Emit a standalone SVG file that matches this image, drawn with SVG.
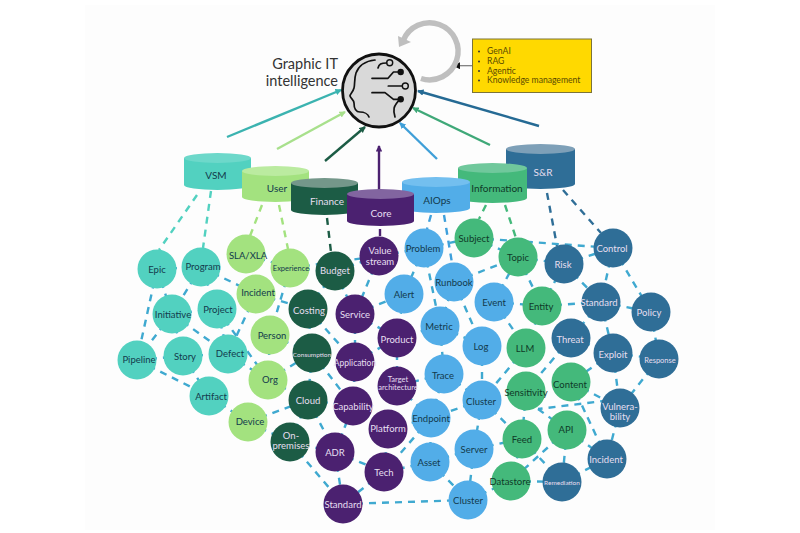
<svg xmlns="http://www.w3.org/2000/svg" width="800" height="533" viewBox="0 0 800 533">
<defs>
<style>
text{font-family:"Lato","Open Sans","Liberation Sans",sans-serif;font-size:9.5px;text-anchor:middle}
.lt{fill:#e6dff0}.dk{fill:#123a4c}
.e{stroke:#3fa9d0;stroke-width:2.4;stroke-dasharray:7 6;fill:none}
.cd{stroke-width:2.4;stroke-dasharray:7 6;fill:none}
.up{stroke-width:2.4;fill:none}
.h{fill:none;stroke:#111;stroke-width:1.7;stroke-linecap:round;stroke-linejoin:round}
.vsm{fill:#52d1c0}.usr{fill:#a3e27f}.fin{fill:#1c5c45}.cor{fill:#4b2170}.aio{fill:#52ade8}.inf{fill:#44b97b}.sr{fill:#2f6e97}
.big{font-size:14.5px;fill:#333;text-anchor:end}
.cy{font-size:10px}
.s{font-size:7.5px}.xs{font-size:6.5px}
.bl{font-size:8.6px;fill:#5a4a00;text-anchor:start}
</style>
<marker id="a1" markerWidth="6.500" markerHeight="6.500" refX="5.500" refY="3.250" orient="auto" markerUnits="userSpaceOnUse"><path d="M0 0L6.500 3.250L0 6.500z" fill="context-stroke"/></marker>
<marker id="ab" markerWidth="7" markerHeight="7" refX="7" refY="3.500" orient="auto" markerUnits="userSpaceOnUse"><path d="M0 0L7 3.500L0 7z" fill="#111"/></marker>
<circle id="c" r="19.5"/>
</defs>
<rect width="800" height="533" fill="#fff"/>
<rect x="85" y="5" width="630" height="525" fill="#fdfdfd"/>

<g id="connectors">
<g class="cd" stroke="#52d1c0" id="c-vsm"><line x1="197" y1="195" x2="159" y2="250"/><line x1="211" y1="191" x2="203" y2="248"/></g>
<g class="cd" stroke="#a3e27f" id="c-user"><line x1="262" y1="205" x2="250" y2="236"/><line x1="279" y1="205" x2="288" y2="249"/></g>
<g class="cd" stroke="#1c5c45" id="c-fin"><line x1="327" y1="218" x2="331" y2="252"/></g>
<g class="cd" stroke="#4b2170" id="c-core"><line x1="380" y1="229" x2="380" y2="237"/></g>
<g class="cd" stroke="#3fa0dc" id="c-aiops"><line x1="431" y1="215" x2="427" y2="229"/><line x1="444" y1="215" x2="452" y2="263"/></g>
<g class="cd" stroke="#44b97b" id="c-info"><line x1="486" y1="205" x2="479" y2="219"/><line x1="505" y1="205" x2="516" y2="238"/></g>
<g class="cd" stroke="#2f6e97" id="c-sr"><line x1="547" y1="193" x2="557" y2="246"/><line x1="563" y1="190" x2="601" y2="233"/></g>
<g class="e" id="c-links">
<line x1="157" y1="269" x2="201" y2="267"/><line x1="157" y1="269" x2="172" y2="314"/><line x1="201" y1="267" x2="172" y2="314"/><line x1="201" y1="267" x2="217" y2="309"/><line x1="201" y1="267" x2="256" y2="294"/><line x1="157" y1="269" x2="137" y2="360"/><line x1="172" y1="314" x2="137" y2="360"/><line x1="172" y1="314" x2="217" y2="309"/><line x1="172" y1="314" x2="183" y2="356"/><line x1="172" y1="314" x2="228" y2="354"/><line x1="217" y1="309" x2="228" y2="354"/><line x1="217" y1="309" x2="268" y2="380"/><line x1="256" y1="294" x2="228" y2="354"/><line x1="246" y1="254" x2="290" y2="268"/><line x1="290" y1="268" x2="379" y2="256"/><line x1="290" y1="268" x2="335" y2="271"/><line x1="335" y1="271" x2="379" y2="256"/><line x1="335" y1="271" x2="355" y2="314"/><line x1="379" y1="256" x2="355" y2="314"/><line x1="379" y1="256" x2="424" y2="248"/><line x1="290" y1="268" x2="270" y2="335"/><line x1="256" y1="294" x2="308" y2="309"/><line x1="308" y1="309" x2="335" y2="271"/><line x1="137" y1="360" x2="183" y2="356"/><line x1="137" y1="360" x2="209" y2="396"/><line x1="183" y1="356" x2="228" y2="354"/><line x1="183" y1="356" x2="209" y2="396"/><line x1="228" y1="354" x2="268" y2="380"/><line x1="270" y1="335" x2="268" y2="380"/><line x1="270" y1="335" x2="312" y2="353"/><line x1="268" y1="380" x2="312" y2="353"/><line x1="268" y1="380" x2="308" y2="400"/><line x1="209" y1="396" x2="248" y2="422"/><line x1="248" y1="422" x2="308" y2="400"/><line x1="248" y1="422" x2="290" y2="442"/><line x1="308" y1="309" x2="312" y2="353"/><line x1="312" y1="353" x2="308" y2="400"/><line x1="308" y1="400" x2="353" y2="406"/><line x1="308" y1="400" x2="290" y2="442"/><line x1="308" y1="400" x2="335" y2="452"/><line x1="312" y1="353" x2="353" y2="406"/><line x1="308" y1="309" x2="355" y2="362"/><line x1="355" y1="314" x2="355" y2="362"/><line x1="355" y1="362" x2="353" y2="406"/><line x1="355" y1="362" x2="397" y2="338"/><line x1="290" y1="442" x2="335" y2="452"/><line x1="290" y1="442" x2="343" y2="504"/><line x1="335" y1="452" x2="353" y2="406"/><line x1="335" y1="452" x2="384" y2="472"/><line x1="335" y1="452" x2="343" y2="504"/><line x1="384" y1="472" x2="343" y2="504"/><line x1="384" y1="472" x2="388" y2="429"/><line x1="343" y1="504" x2="468" y2="500"/><line x1="355" y1="314" x2="404" y2="294"/><line x1="355" y1="314" x2="397" y2="338"/><line x1="474" y1="238" x2="613" y2="248"/><line x1="474" y1="238" x2="518" y2="257"/><line x1="424" y1="248" x2="474" y2="238"/><line x1="424" y1="248" x2="404" y2="294"/><line x1="424" y1="248" x2="440" y2="326"/><line x1="454" y1="282" x2="518" y2="257"/><line x1="454" y1="282" x2="482" y2="346"/><line x1="454" y1="282" x2="440" y2="326"/><line x1="404" y1="294" x2="397" y2="338"/><line x1="440" y1="326" x2="397" y2="338"/><line x1="440" y1="326" x2="482" y2="346"/><line x1="440" y1="326" x2="444" y2="374"/><line x1="482" y1="346" x2="482" y2="400"/><line x1="494" y1="302" x2="518" y2="257"/><line x1="494" y1="302" x2="542" y2="306"/><line x1="494" y1="302" x2="526" y2="348"/><line x1="518" y1="257" x2="564" y2="264"/><line x1="518" y1="257" x2="542" y2="306"/><line x1="542" y1="306" x2="564" y2="264"/><line x1="542" y1="306" x2="601" y2="302"/><line x1="542" y1="306" x2="526" y2="348"/><line x1="564" y1="264" x2="613" y2="248"/><line x1="564" y1="264" x2="601" y2="302"/><line x1="613" y1="248" x2="601" y2="302"/><line x1="613" y1="248" x2="651" y2="312"/><line x1="601" y1="302" x2="651" y2="312"/><line x1="601" y1="302" x2="571" y2="338"/><line x1="601" y1="302" x2="613" y2="353"/><line x1="651" y1="312" x2="659" y2="359"/><line x1="571" y1="338" x2="613" y2="353"/><line x1="571" y1="338" x2="526" y2="391"/><line x1="526" y1="348" x2="482" y2="400"/><line x1="613" y1="353" x2="659" y2="359"/><line x1="613" y1="353" x2="571" y2="382"/><line x1="613" y1="353" x2="620" y2="408"/><line x1="659" y1="359" x2="620" y2="408"/><line x1="571" y1="382" x2="620" y2="408"/><line x1="620" y1="399" x2="538" y2="409"/><line x1="538" y1="409" x2="567" y2="430"/><line x1="620" y1="408" x2="607" y2="459"/><line x1="571" y1="382" x2="607" y2="459"/><line x1="526" y1="391" x2="522" y2="439"/><line x1="522" y1="439" x2="511" y2="481"/><line x1="522" y1="439" x2="562" y2="482"/><line x1="567" y1="430" x2="511" y2="481"/><line x1="567" y1="430" x2="562" y2="482"/><line x1="567" y1="430" x2="607" y2="459"/><line x1="511" y1="481" x2="562" y2="482"/><line x1="562" y1="482" x2="607" y2="459"/><line x1="482" y1="400" x2="522" y2="439"/><line x1="482" y1="400" x2="474" y2="449"/><line x1="482" y1="400" x2="431" y2="418"/><line x1="482" y1="400" x2="444" y2="374"/><line x1="474" y1="449" x2="522" y2="439"/><line x1="474" y1="449" x2="430" y2="462"/><line x1="474" y1="449" x2="468" y2="500"/><line x1="430" y1="462" x2="468" y2="500"/><line x1="430" y1="462" x2="431" y2="418"/><line x1="430" y1="462" x2="384" y2="472"/><line x1="431" y1="418" x2="444" y2="374"/><line x1="431" y1="418" x2="388" y2="429"/><line x1="431" y1="418" x2="384" y2="472"/><line x1="444" y1="374" x2="397" y2="386"/><line x1="431" y1="418" x2="397" y2="386"/><line x1="397" y1="386" x2="397" y2="338"/><line x1="468" y1="500" x2="511" y2="481"/>
</g>
<g id="c-up">
<line class="up" x1="227" y1="137" x2="341" y2="90" stroke="#3bb3b0" marker-end="url(#a1)"/>
<line class="up" x1="277" y1="149" x2="345" y2="112" stroke="#a8e08c" marker-end="url(#a1)"/>
<line class="up" x1="325" y1="161" x2="365" y2="127" stroke="#1c5c45" marker-end="url(#a1)"/>
<line class="up" x1="379" y1="190" x2="379" y2="146" stroke="#4b2170" marker-end="url(#a1)"/>
<line class="up" x1="437" y1="159" x2="400" y2="123" stroke="#3f9fd8" marker-end="url(#a1)"/>
<line class="up" x1="490" y1="145" x2="413" y2="108" stroke="#3fa878" marker-end="url(#a1)"/>
<line class="up" x1="539" y1="126" x2="418" y2="91" stroke="#256a94" marker-end="url(#a1)"/>
<line x1="472" y1="65.7" x2="453" y2="65.7" stroke="#777" stroke-width="1.2" marker-end="url(#ab)"/>
<path d="M421 78.5A28.5 28.5 0 1 0 403 41" fill="none" stroke="#bfbfbf" stroke-width="5.5"/>
<path d="M398 36L411 42L399 47z" fill="#bfbfbf"/>
</g>
</g>

<g id="brain">
<circle cx="379" cy="90.5" r="36.500" fill="#d9d9d9" stroke="#111" stroke-width="2.800"/>
<path class="h" d="M375 60C366 61 359 65 356 73C354 79 355 85 354 88C353 92 350 94 350 96C351 99 354 100 354 103C354 108 355 112 360 112C364 112 368 114 369 117"/>
<path class="h" d="M378 68C379 64 381 63 386.500 63"/><circle cx="389.700" cy="62.700" r="3" fill="none" stroke="#111" stroke-width="1.400"/>
<path class="h" d="M372 78.300H388L393.500 72H400"/><circle cx="400.700" cy="72" r="3.200" fill="#111"/>
<path class="h" d="M388.300 86H402"/><circle cx="405.300" cy="86" r="3" fill="none" stroke="#111" stroke-width="1.400"/>
<path class="h" d="M372 92.700H385L393.500 99.300H400"/><circle cx="400.700" cy="99.300" r="3.200" fill="#111"/>
<path class="h" d="M395 117C393 110 393 106 400 99.300"/>
</g>
<text class="big" x="338" y="69">Graphic IT</text>
<text class="big" x="338" y="86">intelligence</text>

<g id="legend">
<rect x="472.500" y="39" width="119" height="53.500" fill="#ffd900" stroke="#7c7438" stroke-width="1"/>
<text class="bl" x="487" y="54">GenAI</text><text class="bl" x="487" y="64">RAG</text><text class="bl" x="487" y="73.500">Agentic</text><text class="bl" x="487" y="83">Knowledge management</text>
<circle cx="479" cy="51.500" r="1" fill="#333"/><circle cx="479" cy="61.500" r="1" fill="#333"/><circle cx="479" cy="71" r="1" fill="#333"/><circle cx="479" cy="80.500" r="1" fill="#333"/>
</g>

<g id="db-vsm"><path class="vsm" d="M184 158V185A33.500 5 0 0 0 251 185V158z"/><ellipse cx="217.500" cy="158" rx="33.500" ry="5" fill="#6dd8ca"/><text class="cy dk" x="216" y="179">VSM</text></g>
<g id="db-user"><path class="usr" d="M242 171V197A33.500 5 0 0 0 309 197V171z"/><ellipse cx="275.500" cy="171" rx="33.500" ry="5" fill="#bbeba0"/><text class="cy dk" x="277" y="192">User</text></g>
<g id="db-sr"><path class="sr" d="M506 149V184A34.500 5 0 0 0 575 184V149z"/><ellipse cx="540.500" cy="149" rx="34.500" ry="5" fill="#7ea0b8"/><text class="cy lt" x="543" y="176">S&amp;R</text></g>
<g id="db-info"><path class="inf" d="M458 168V198A34.500 5 0 0 0 527 198V168z"/><ellipse cx="492.500" cy="168" rx="34.500" ry="5" fill="#70c89c"/><text class="cy" fill="#0f3a28" x="497" y="192">Information</text></g>
<g id="db-aiops"><path class="aio" d="M402 182V208A34 5 0 0 0 470 208V182z"/><ellipse cx="436" cy="182" rx="34" ry="5" fill="#73bfef"/><text class="cy dk" x="437" y="204">AIOps</text></g>
<g id="db-fin"><path class="fin" d="M291 183V210A33.500 5 0 0 0 358 210V183z"/><ellipse cx="324.500" cy="183" rx="33.500" ry="5" fill="#74978a"/><text class="cy lt" x="327" y="205">Finance</text></g>
<g id="db-core"><path class="cor" d="M347 194V221A33.500 5 0 0 0 414 221V194z"/><ellipse cx="380.500" cy="194" rx="33.500" ry="5" fill="#8265a0"/><text class="cy lt" x="381" y="217">Core</text></g>

<g id="n-epic"><use href="#c" x="157" y="269" class="vsm"/><text class="dk" x="157" y="272.500">Epic</text></g>
<g id="n-program"><use href="#c" x="201" y="267" class="vsm"/><text class="dk" x="203" y="270">Program</text></g>
<g id="n-initiative"><use href="#c" x="172" y="314" class="vsm"/><text class="dk" x="173" y="318">Initiative</text></g>
<g id="n-project"><use href="#c" x="217" y="309" class="vsm"/><text class="dk" x="218" y="313">Project</text></g>
<g id="n-pipeline"><use href="#c" x="137" y="360" class="vsm"/><text class="dk" x="139" y="363">Pipeline</text></g>
<g id="n-story"><use href="#c" x="183" y="356" class="vsm"/><text class="dk" x="185" y="360">Story</text></g>
<g id="n-defect"><use href="#c" x="228" y="354" class="vsm"/><text class="dk" x="230" y="357">Defect</text></g>
<g id="n-artifact"><use href="#c" x="209" y="396" class="vsm"/><text class="dk" x="211" y="400">Artifact</text></g>
<g id="n-sla"><use href="#c" x="246" y="254" class="usr"/><text class="dk" x="248" y="259">SLA/XLA</text></g>
<g id="n-experience"><use href="#c" x="290" y="268" class="usr"/><text class="dk s" x="291" y="271">Experience</text></g>
<g id="n-incident"><use href="#c" x="256" y="294" class="usr"/><text class="dk" x="258" y="296">Incident</text></g>
<g id="n-person"><use href="#c" x="270" y="335" class="usr"/><text class="dk" x="272" y="339">Person</text></g>
<g id="n-org"><use href="#c" x="268" y="380" class="usr"/><text class="dk" x="270" y="383">Org</text></g>
<g id="n-device"><use href="#c" x="248" y="422" class="usr"/><text class="dk" x="250" y="425">Device</text></g>
<g id="n-budget"><use href="#c" x="335" y="271" class="fin"/><text class="lt" x="335" y="274">Budget</text></g>
<g id="n-costing"><use href="#c" x="308" y="309" class="fin"/><text class="lt" x="309" y="314">Costing</text></g>
<g id="n-consumption"><use href="#c" x="312" y="353" class="fin"/><text class="lt xs" x="312" y="356.500">Consumption</text></g>
<g id="n-cloud"><use href="#c" x="308" y="400" class="fin"/><text class="lt" x="308" y="404">Cloud</text></g>
<g id="n-onprem"><use href="#c" x="290" y="442" class="fin"/><text class="lt" x="291" y="438.500">On-</text><text class="lt" x="291" y="449">premises</text></g>
<g id="n-value"><use href="#c" x="379" y="256" class="cor"/><text class="lt" x="380" y="254">Value</text><text class="lt" x="380" y="265">stream</text></g>
<g id="n-service"><use href="#c" x="355" y="314" class="cor"/><text class="lt" x="355" y="317.500">Service</text></g>
<g id="n-product"><use href="#c" x="397" y="338" class="cor"/><text class="lt" x="397" y="343">Product</text></g>
<g id="n-application"><use href="#c" x="355" y="362" class="cor"/><text class="lt" x="355" y="366" style="font-size:8.500px">Application</text></g>
<g id="n-target"><use href="#c" x="397" y="386" class="cor"/><text class="lt s" x="398" y="382">Target</text><text class="lt s" x="398" y="390">architecture</text></g>
<g id="n-capability"><use href="#c" x="353" y="406" class="cor"/><text class="lt" x="353" y="409.500">Capability</text></g>
<g id="n-platform"><use href="#c" x="388" y="429" class="cor"/><text class="lt" x="388" y="432">Platform</text></g>
<g id="n-adr"><use href="#c" x="335" y="452" class="cor"/><text class="lt" x="335" y="456">ADR</text></g>
<g id="n-tech"><use href="#c" x="384" y="472" class="cor"/><text class="lt" x="384" y="475.500">Tech</text></g>
<g id="n-standard"><use href="#c" x="343" y="504" class="cor"/><text class="lt" x="343" y="508">Standard</text></g>
<g id="n-problem"><use href="#c" x="424" y="248" class="aio"/><text class="dk" x="423" y="252">Problem</text></g>
<g id="n-runbook"><use href="#c" x="454" y="282" class="aio"/><text class="dk" x="454" y="286">Runbook</text></g>
<g id="n-alert"><use href="#c" x="404" y="294" class="aio"/><text class="dk" x="404" y="297.500">Alert</text></g>
<g id="n-metric"><use href="#c" x="440" y="326" class="aio"/><text class="dk" x="439" y="330">Metric</text></g>
<g id="n-log"><use href="#c" x="482" y="346" class="aio"/><text class="dk" x="481" y="350">Log</text></g>
<g id="n-trace"><use href="#c" x="444" y="374" class="aio"/><text class="dk" x="443" y="379">Trace</text></g>
<g id="n-cluster"><use href="#c" x="482" y="400" class="aio"/><text class="dk" x="481" y="405">Cluster</text></g>
<g id="n-endpoint"><use href="#c" x="431" y="418" class="aio"/><text class="dk" x="431" y="422">Endpoint</text></g>
<g id="n-server"><use href="#c" x="474" y="449" class="aio"/><text class="dk" x="474" y="452.500">Server</text></g>
<g id="n-asset"><use href="#c" x="430" y="462" class="aio"/><text class="dk" x="429" y="466">Asset</text></g>
<g id="n-cluster2"><use href="#c" x="468" y="500" class="aio"/><text class="dk" x="468" y="504">Cluster</text></g>
<g id="n-event"><use href="#c" x="494" y="302" class="aio"/><text class="dk" x="494" y="306">Event</text></g>
<g id="n-subject"><use href="#c" x="474" y="238" class="inf"/><text fill="#0f3a28" x="474" y="241.500">Subject</text></g>
<g id="n-topic"><use href="#c" x="518" y="257" class="inf"/><text fill="#0f3a28" x="518" y="261">Topic</text></g>
<g id="n-entity"><use href="#c" x="542" y="306" class="inf"/><text fill="#0f3a28" x="541" y="310">Entity</text></g>
<g id="n-llm"><use href="#c" x="526" y="348" class="inf"/><text fill="#0f3a28" x="525" y="352">LLM</text></g>
<g id="n-sensitivity"><use href="#c" x="526" y="391" class="inf"/><text fill="#0f3a28" x="526" y="395.500">Sensitivity</text></g>
<g id="n-content"><use href="#c" x="571" y="382" class="inf"/><text fill="#0f3a28" x="570" y="388">Content</text></g>
<g id="n-api"><use href="#c" x="567" y="430" class="inf"/><text fill="#0f3a28" x="566" y="433">API</text></g>
<g id="n-feed"><use href="#c" x="522" y="439" class="inf"/><text fill="#0f3a28" x="522" y="443">Feed</text></g>
<g id="n-datastore"><use href="#c" x="511" y="481" class="inf"/><text fill="#0f3a28" x="510" y="485">Datastore</text></g>
<g id="n-risk"><use href="#c" x="564" y="264" class="sr"/><text class="lt" x="563" y="268">Risk</text></g>
<g id="n-control"><use href="#c" x="613" y="248" class="sr"/><text class="lt" x="612" y="252">Control</text></g>
<g id="n-standard2"><use href="#c" x="601" y="302" class="sr"/><text class="lt" x="599" y="305.500">Standard</text></g>
<g id="n-policy"><use href="#c" x="651" y="312" class="sr"/><text class="lt" x="649" y="316">Policy</text></g>
<g id="n-threat"><use href="#c" x="571" y="338" class="sr"/><text class="lt" x="570" y="343">Threat</text></g>
<g id="n-exploit"><use href="#c" x="613" y="353" class="sr"/><text class="lt" x="613" y="358">Exploit</text></g>
<g id="n-response"><use href="#c" x="659" y="359" class="sr"/><text class="lt s" x="660" y="363">Response</text></g>
<g id="n-vuln"><use href="#c" x="620" y="408" class="sr"/><text class="lt" x="620" y="410">Vulnera-</text><text class="lt" x="620" y="420">bility</text></g>
<g id="n-incident2"><use href="#c" x="607" y="459" class="sr"/><text class="lt" x="606" y="463">Incident</text></g>
<g id="n-remediation"><use href="#c" x="562" y="482" class="sr"/><text class="lt xs" x="562" y="484.500">Remediation</text></g>
</svg>
